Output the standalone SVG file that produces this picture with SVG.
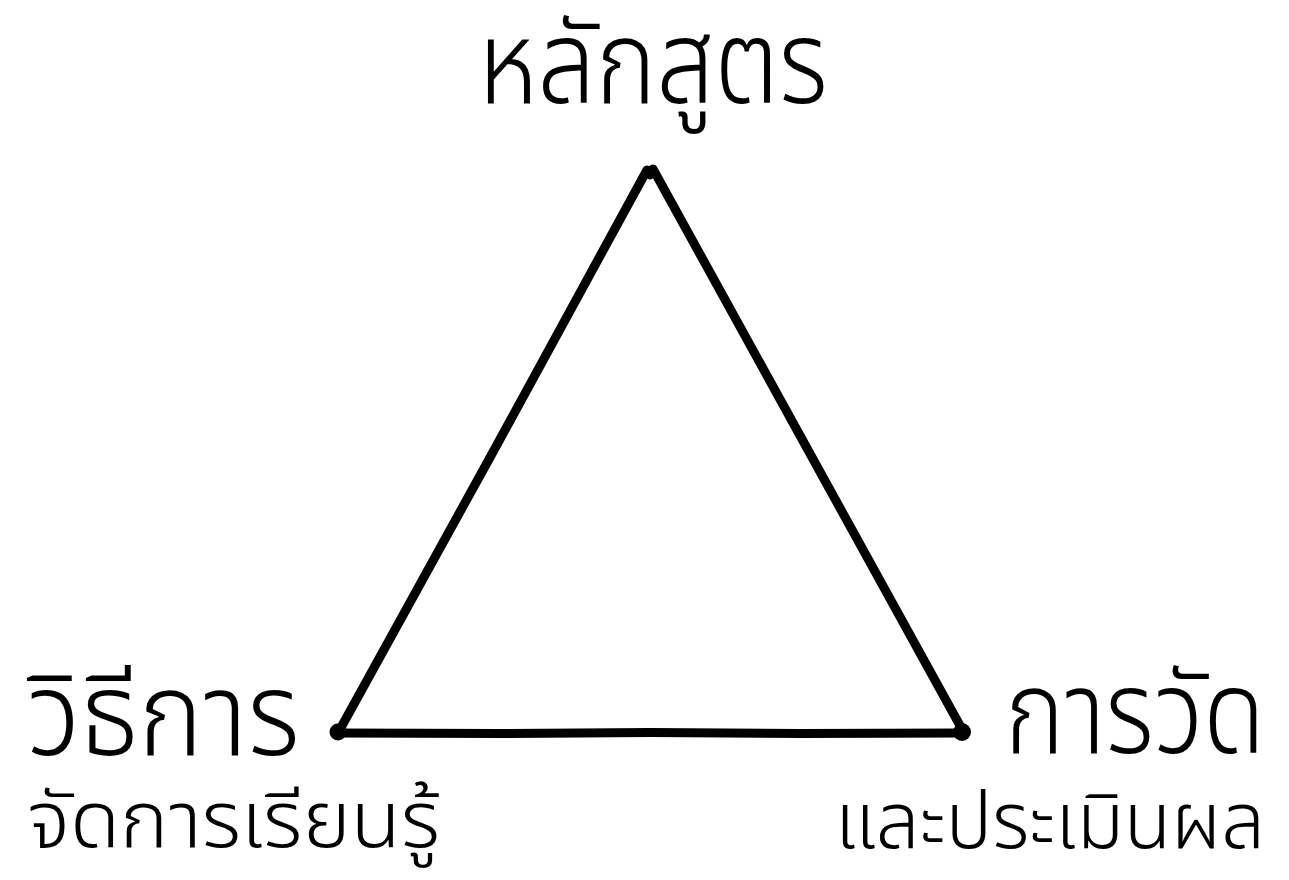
<svg xmlns="http://www.w3.org/2000/svg" width="1289" height="880" viewBox="0 0 1289 880">
<style>
.t{font-family:"Noto Sans","Noto Sans Thai","Liberation Sans",sans-serif;fill:#000;font-weight:350}
.big{font-size:116px}
.small{font-size:78px}
.edge{fill:none;stroke:#000;stroke-width:9;stroke-linejoin:round;stroke-linecap:round}
</style>
<rect width="1289" height="880" fill="#fff"/>
<g id="connectors">
<path class="edge" d="M338,733 L493,452 L647,170 L650,175 L653,169 L808,450 L963,731"/>
<path class="edge" d="M338,733 L500,733.5 L650,732.5 L800,733.5 L963,733"/>
<circle cx="338" cy="732" r="8.5" fill="#000"/>
<circle cx="962" cy="732" r="9" fill="#000"/>
</g>
<g id="node-top"><text class="t big" x="478" y="103" textLength="350" lengthAdjust="spacingAndGlyphs">หลักสูตร</text></g>
<g id="node-left"><text class="t big" x="27" y="755" textLength="273" lengthAdjust="spacingAndGlyphs">วิธีการ</text><text class="t small" x="27" y="847" textLength="413" lengthAdjust="spacingAndGlyphs">จัดการเรียนรู้</text></g>
<g id="node-right"><text class="t big" x="1005" y="753" textLength="260" lengthAdjust="spacingAndGlyphs">การวัด</text><text class="t small" x="835" y="848" textLength="430" lengthAdjust="spacingAndGlyphs">และประเมินผล</text></g>
</svg>
